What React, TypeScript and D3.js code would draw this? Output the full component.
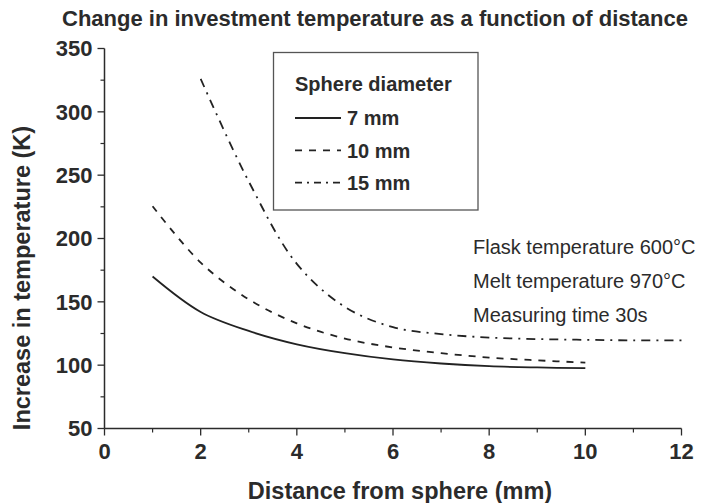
import React from "react";
import * as d3 from "d3";

const xs7 = [1, 2, 3, 4, 5, 6, 7, 8, 9, 10];
const ys7 = [170, 142, 127, 116.5, 109.5, 104.5, 101.3, 99.2, 98.2, 97.6];
const xs10 = [1, 2, 3, 4, 5, 6, 7, 8, 9, 10];
const ys10 = [225.5, 181, 152, 133, 121, 114, 109.5, 106, 103.8, 102];
const xs15 = [2, 3, 4, 5, 6, 7, 8, 9, 10, 11, 12];
const ys15 = [326, 245, 180, 146, 130, 124.5, 121.8, 120.6, 120, 119.6, 119.6];

const xTicks = [0, 2, 4, 6, 8, 10, 12];
const xMinor = [1, 3, 5, 7, 9, 11];
const yTicks = [50, 100, 150, 200, 250, 300, 350];
const yMinor = [75, 125, 175, 225, 275, 325];

const legendLabels = ["7 mm", "10 mm", "15 mm"];
const notes = ["Flask temperature 600°C", "Melt temperature 970°C", "Measuring time 30s"];

const W = 709;
const H = 503;
const FONT = "'Liberation Sans', Arial, Helvetica, sans-serif";
const INK = "#2b2b2b";

export default function App() {
  const x = d3.scaleLinear().domain([0, 12]).range([104.5, 681.5]);
  const y = d3.scaleLinear().domain([50, 350]).range([428.5, 48.5]);
  const line = d3
    .line<[number, number]>()
    .x((d) => x(d[0]))
    .y((d) => y(d[1]))
    .curve(d3.curveCatmullRom.alpha(0.5));
  const series = [
    { xs: xs7, ys: ys7, dash: undefined as string | undefined },
    { xs: xs10, ys: ys10, dash: "7,7" },
    { xs: xs15, ys: ys15, dash: "9,6,2,6" },
  ];
  const legendDash = [undefined, "7,7", "7,5,2,5"];
  const x0 = x(0);
  const y0 = y(50);
  return (
    <svg
      width={W}
      height={H}
      style={{ position: "absolute", left: 0, top: 0, background: "#fff" }}
      fontFamily={FONT}
    >
      <rect x={0} y={0} width={W} height={H} fill="#fff" />
      <text x={375} y={26} textAnchor="middle" fontSize={22} fontWeight="bold" fill={INK}>
        Change in investment temperature as a function of distance
      </text>
      {/* axes */}
      <line x1={x0} x2={x0} y1={y(350)} y2={y0} stroke={INK} strokeWidth={1.5} />
      <line x1={x0} x2={x(12)} y1={y0} y2={y0} stroke={INK} strokeWidth={1.5} />
      {yTicks.map((t) => (
        <g key={"yt" + t}>
          <line x1={x0 - 7} x2={x0} y1={y(t)} y2={y(t)} stroke={INK} strokeWidth={1.3} />
          <text x={x0 - 12} y={y(t)} dy="0.36em" textAnchor="end" fontSize={22} fontWeight="bold" fill={INK}>
            {t}
          </text>
        </g>
      ))}
      {yMinor.map((t) => (
        <line key={"ym" + t} x1={x0 - 4} x2={x0} y1={y(t)} y2={y(t)} stroke={INK} strokeWidth={1.2} />
      ))}
      {xTicks.map((t) => (
        <g key={"xt" + t}>
          <line x1={x(t)} x2={x(t)} y1={y0} y2={y0 + 7} stroke={INK} strokeWidth={1.3} />
          <text x={x(t)} y={y0 + 30} textAnchor="middle" fontSize={22} fontWeight="bold" fill={INK}>
            {t}
          </text>
        </g>
      ))}
      {xMinor.map((t) => (
        <line key={"xm" + t} x1={x(t)} x2={x(t)} y1={y0} y2={y0 + 4} stroke={INK} strokeWidth={1.2} />
      ))}
      <text x={400} y={499} textAnchor="middle" fontSize={23.5} fontWeight="bold" fill={INK}>
        Distance from sphere (mm)
      </text>
      <text
        transform={`translate(30,278) rotate(-90)`}
        textAnchor="middle"
        fontSize={23.5}
        fontWeight="bold"
        fill={INK}
      >
        Increase in temperature (K)
      </text>
      {/* curves */}
      {series.map((s, i) => (
        <path
          key={"s" + i}
          d={line(s.xs.map((v, j) => [v, s.ys[j]] as [number, number])) || ""}
          fill="none"
          stroke="#222"
          strokeWidth={1.8}
          strokeDasharray={s.dash}
        />
      ))}
      {/* legend */}
      <rect x={273.5} y={52.5} width={204.5} height={157.5} fill="none" stroke="#555" strokeWidth={1.3} />
      <text x={295} y={91} fontSize={20} fontWeight="bold" fill={INK}>
        Sphere diameter
      </text>
      {legendLabels.map((l, i) => (
        <g key={"lg" + i}>
          <line
            x1={295}
            x2={341}
            y1={118 + i * 32.3}
            y2={118 + i * 32.3}
            stroke="#222"
            strokeWidth={1.8}
            strokeDasharray={legendDash[i]}
          />
          <text x={347} y={118 + i * 32.3} dy="0.36em" fontSize={20} fontWeight="bold" fill={INK}>
            {l}
          </text>
        </g>
      ))}
      {notes.map((n, i) => (
        <text key={"n" + i} x={473} y={254 + i * 34} fontSize={20} fill={INK}>
          {n}
        </text>
      ))}
    </svg>
  );
}
